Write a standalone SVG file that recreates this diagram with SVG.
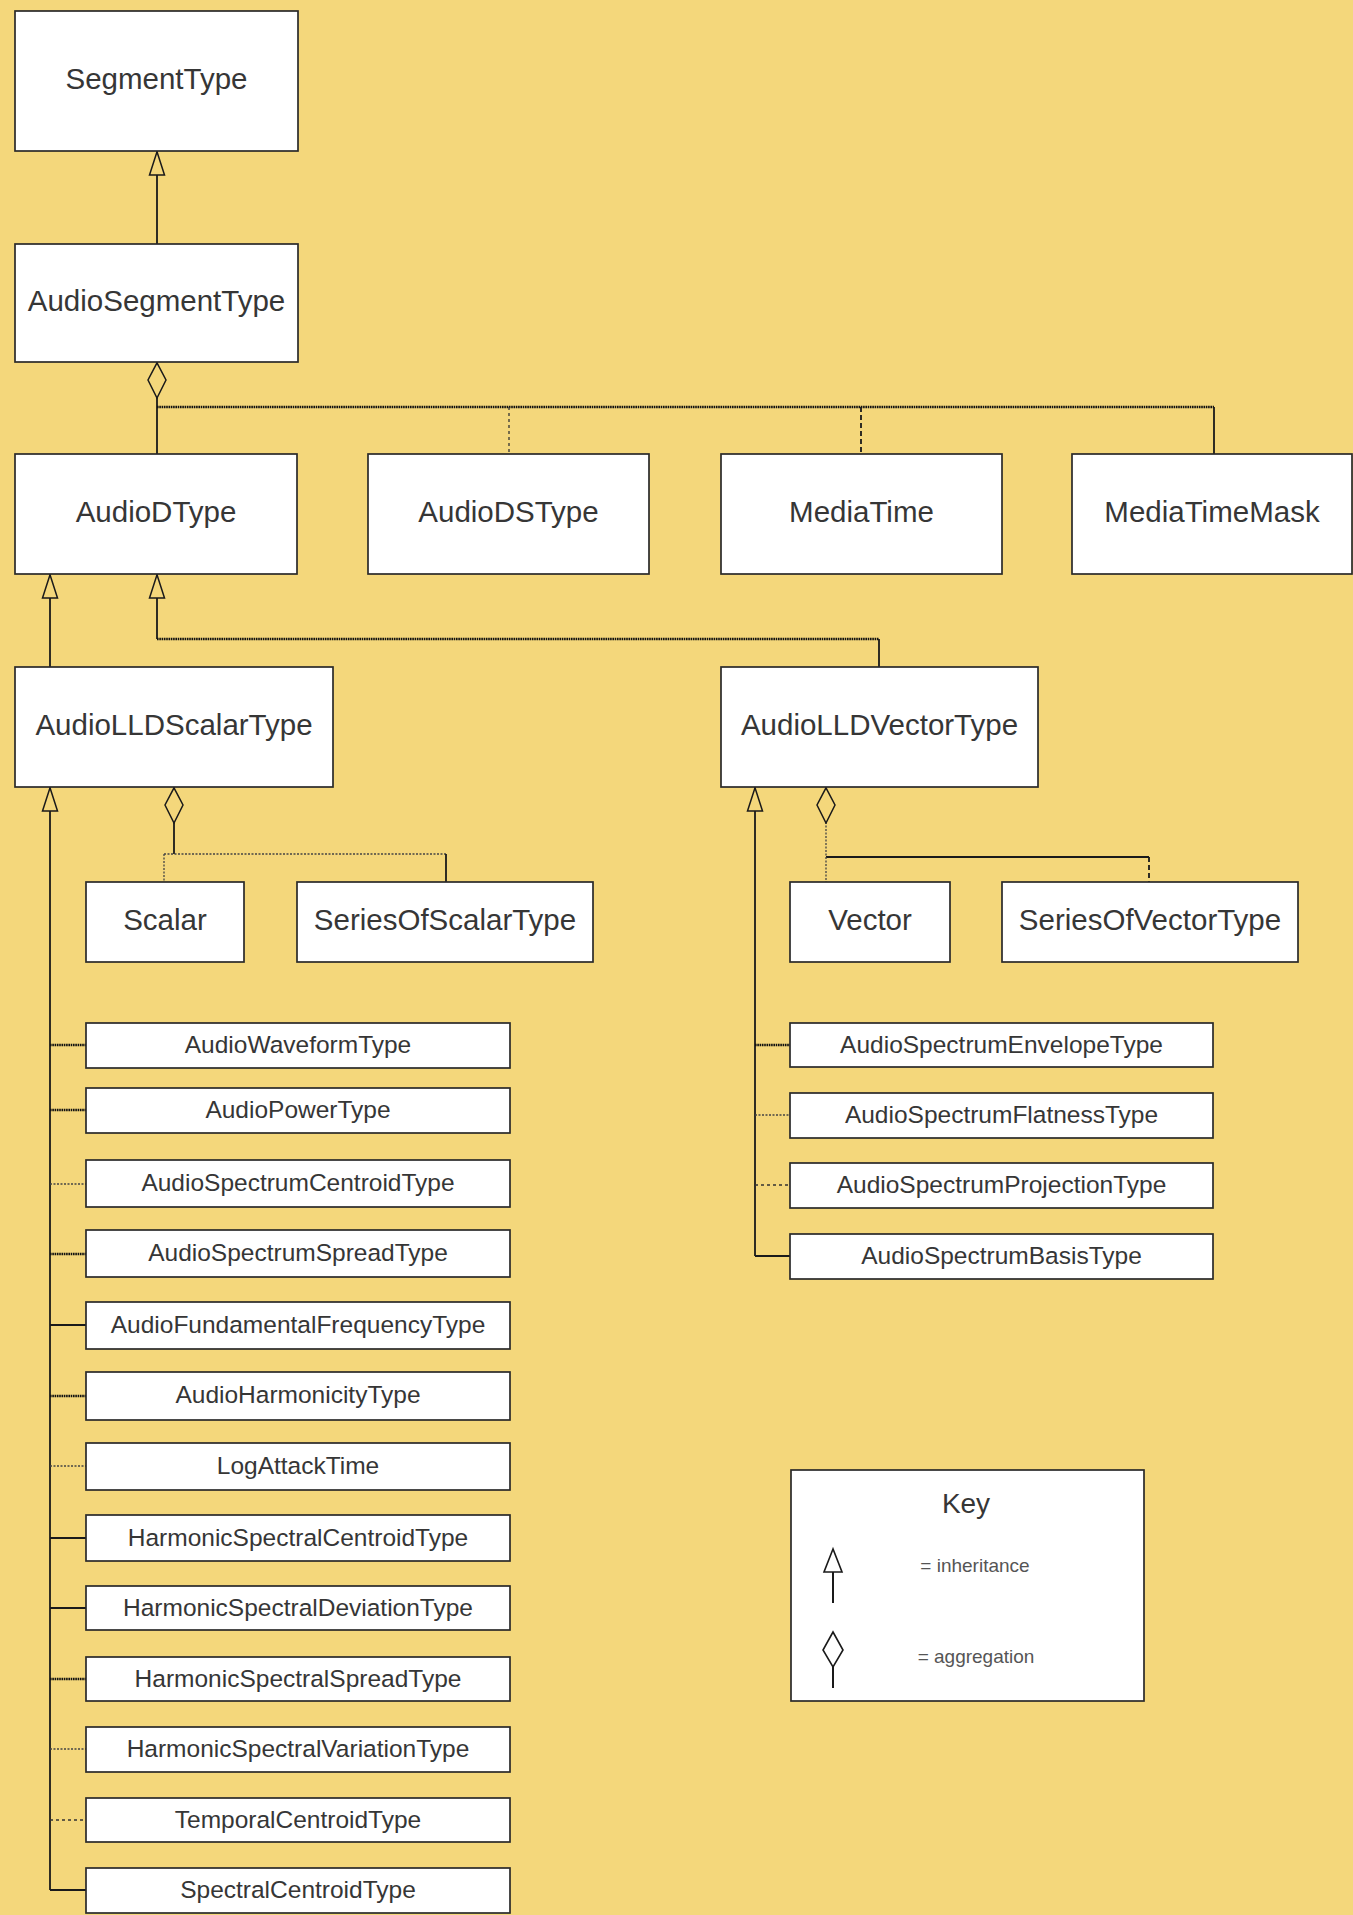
<svg xmlns="http://www.w3.org/2000/svg" width="1353" height="1915" viewBox="0 0 1353 1915">
<style>
.bx{fill:#fff;stroke:#2a2a2a;stroke-width:1.7}
.t{font-family:"Liberation Sans",Arial,sans-serif;fill:#363636;text-anchor:middle}
.big{font-size:29.5px}
.mid{font-size:24.5px}
.sm{font-size:19px;fill:#555}
.c{fill:none;stroke:#1a1a1a;stroke-width:1.8}
.dd{fill:none;stroke:#111;stroke-width:2.6;stroke-dasharray:1.6 0.7}
.df{fill:none;stroke:#444;stroke-width:1.3;stroke-dasharray:2 1.5}
.ds{fill:none;stroke:#333;stroke-width:1.3;stroke-dasharray:3 3}
.dsh{fill:none;stroke:#1a1a1a;stroke-width:1.8;stroke-dasharray:5 3}
</style>
<defs>
<marker id="inh" viewBox="0 0 25 18" refX="0" refY="9" markerWidth="25" markerHeight="18" markerUnits="userSpaceOnUse" orient="auto">
<polygon points="0.8,9 24,1.5 24,16.5" fill="#f4d77b" stroke="#1a1a1a" stroke-width="1.5"/>
</marker>
<marker id="agg" viewBox="0 0 37 20" refX="0" refY="10" markerWidth="37" markerHeight="20" markerUnits="userSpaceOnUse" orient="auto">
<polygon points="0.8,10 18,1 36,10 18,19" fill="#f4d77b" stroke="#1a1a1a" stroke-width="1.5"/>
</marker>
</defs>
<rect x="0" y="0" width="1353" height="1915" fill="#f4d77b"/>

<g id="connectors">
<path class="c" d="M157,151 V244" marker-start="url(#inh)"/>
<path class="c" d="M157,362 V454" marker-start="url(#agg)"/>
<path class="dd" d="M157,407 H1214"/>
<path class="ds" d="M509,407 V454"/>
<path class="dsh" d="M861,407 V454"/>
<path class="c" d="M1214,407 V454"/>
<path class="c" d="M50,574 V667" marker-start="url(#inh)"/>
<path class="c" d="M157,574 V639" marker-start="url(#inh)"/>
<path class="dd" d="M157,639 H879"/>
<path class="c" d="M879,639 V667"/>
<path class="c" d="M174,787 V854" marker-start="url(#agg)"/>
<path class="df" d="M164,854 H446"/>
<path class="df" d="M164,854 V882"/>
<path class="c" d="M446,854 V882"/>
<path class="df" d="M826,787 V857" marker-start="url(#agg)"/>
<path class="c" d="M826,857 H1149"/>
<path class="df" d="M826,857 V882"/>
<path class="dsh" d="M1149,857 V882"/>
<path class="c" d="M50,787 V1890" marker-start="url(#inh)"/>
<path class="dd" d="M50,1045 H86"/>
<path class="dd" d="M50,1110 H86"/>
<path class="df" d="M50,1184 H86"/>
<path class="dd" d="M50,1254 H86"/>
<path class="c" d="M50,1325 H86"/>
<path class="dd" d="M50,1396 H86"/>
<path class="df" d="M50,1466 H86"/>
<path class="c" d="M50,1538 H86"/>
<path class="c" d="M50,1608 H86"/>
<path class="dd" d="M50,1679 H86"/>
<path class="df" d="M50,1749 H86"/>
<path class="ds" d="M50,1820 H86"/>
<path class="c" d="M50,1890 H86"/>
<path class="c" d="M755,787 V1256" marker-start="url(#inh)"/>
<path class="dd" d="M755,1045 H790"/>
<path class="df" d="M755,1115 H790"/>
<path class="ds" d="M755,1185 H790"/>
<path class="c" d="M755,1256 H790"/>
</g>

<g id="SegmentType"><rect class="bx" x="15" y="11" width="283" height="140"/><text class="t big" x="156.5" y="89">SegmentType</text></g>
<g id="AudioSegmentType"><rect class="bx" x="15" y="244" width="283" height="118"/><text class="t big" x="156.5" y="311">AudioSegmentType</text></g>
<g id="AudioDType"><rect class="bx" x="15" y="454" width="282" height="120"/><text class="t big" x="156" y="522">AudioDType</text></g>
<g id="AudioDSType"><rect class="bx" x="368" y="454" width="281" height="120"/><text class="t big" x="508.5" y="522">AudioDSType</text></g>
<g id="MediaTime"><rect class="bx" x="721" y="454" width="281" height="120"/><text class="t big" x="861.5" y="522">MediaTime</text></g>
<g id="MediaTimeMask"><rect class="bx" x="1072" y="454" width="280" height="120"/><text class="t big" x="1212" y="522">MediaTimeMask</text></g>
<g id="AudioLLDScalarType"><rect class="bx" x="15" y="667" width="318" height="120"/><text class="t big" x="174" y="735">AudioLLDScalarType</text></g>
<g id="AudioLLDVectorType"><rect class="bx" x="721" y="667" width="317" height="120"/><text class="t big" x="879.5" y="735">AudioLLDVectorType</text></g>
<g id="Scalar"><rect class="bx" x="86" y="882" width="158" height="80"/><text class="t big" x="165" y="930">Scalar</text></g>
<g id="SeriesOfScalarType"><rect class="bx" x="297" y="882" width="296" height="80"/><text class="t big" x="445" y="930">SeriesOfScalarType</text></g>
<g id="Vector"><rect class="bx" x="790" y="882" width="160" height="80"/><text class="t big" x="870" y="930">Vector</text></g>
<g id="SeriesOfVectorType"><rect class="bx" x="1002" y="882" width="296" height="80"/><text class="t big" x="1150" y="930">SeriesOfVectorType</text></g>

<g id="AudioWaveformType"><rect class="bx" x="86" y="1023" width="424" height="45"/><text class="t mid" x="298" y="1053">AudioWaveformType</text></g>
<g id="AudioPowerType"><rect class="bx" x="86" y="1088" width="424" height="45"/><text class="t mid" x="298" y="1118">AudioPowerType</text></g>
<g id="AudioSpectrumCentroidType"><rect class="bx" x="86" y="1160" width="424" height="47"/><text class="t mid" x="298" y="1191">AudioSpectrumCentroidType</text></g>
<g id="AudioSpectrumSpreadType"><rect class="bx" x="86" y="1230" width="424" height="47"/><text class="t mid" x="298" y="1261">AudioSpectrumSpreadType</text></g>
<g id="AudioFundamentalFrequencyType"><rect class="bx" x="86" y="1302" width="424" height="47"/><text class="t mid" x="298" y="1333">AudioFundamentalFrequencyType</text></g>
<g id="AudioHarmonicityType"><rect class="bx" x="86" y="1372" width="424" height="48"/><text class="t mid" x="298" y="1403">AudioHarmonicityType</text></g>
<g id="LogAttackTime"><rect class="bx" x="86" y="1443" width="424" height="47"/><text class="t mid" x="298" y="1474">LogAttackTime</text></g>
<g id="HarmonicSpectralCentroidType"><rect class="bx" x="86" y="1515" width="424" height="46"/><text class="t mid" x="298" y="1546">HarmonicSpectralCentroidType</text></g>
<g id="HarmonicSpectralDeviationType"><rect class="bx" x="86" y="1586" width="424" height="44"/><text class="t mid" x="298" y="1616">HarmonicSpectralDeviationType</text></g>
<g id="HarmonicSpectralSpreadType"><rect class="bx" x="86" y="1657" width="424" height="44"/><text class="t mid" x="298" y="1687">HarmonicSpectralSpreadType</text></g>
<g id="HarmonicSpectralVariationType"><rect class="bx" x="86" y="1727" width="424" height="45"/><text class="t mid" x="298" y="1757">HarmonicSpectralVariationType</text></g>
<g id="TemporalCentroidType"><rect class="bx" x="86" y="1798" width="424" height="44"/><text class="t mid" x="298" y="1828">TemporalCentroidType</text></g>
<g id="SpectralCentroidType"><rect class="bx" x="86" y="1868" width="424" height="45"/><text class="t mid" x="298" y="1898">SpectralCentroidType</text></g>

<g id="AudioSpectrumEnvelopeType"><rect class="bx" x="790" y="1023" width="423" height="44"/><text class="t mid" x="1001.5" y="1053">AudioSpectrumEnvelopeType</text></g>
<g id="AudioSpectrumFlatnessType"><rect class="bx" x="790" y="1093" width="423" height="45"/><text class="t mid" x="1001.5" y="1123">AudioSpectrumFlatnessType</text></g>
<g id="AudioSpectrumProjectionType"><rect class="bx" x="790" y="1163" width="423" height="45"/><text class="t mid" x="1001.5" y="1193">AudioSpectrumProjectionType</text></g>
<g id="AudioSpectrumBasisType"><rect class="bx" x="790" y="1234" width="423" height="45"/><text class="t mid" x="1001.5" y="1264">AudioSpectrumBasisType</text></g>

<g id="Key">
<rect class="bx" x="791" y="1470" width="353" height="231"/>
<text class="t" style="font-size:28px" x="966" y="1513">Key</text>
<polygon points="833,1549 824,1572 842,1572" fill="#fff" stroke="#1a1a1a" stroke-width="1.6"/>
<line x1="833" y1="1572" x2="833" y2="1603" stroke="#1a1a1a" stroke-width="2"/>
<text class="t sm" x="975" y="1572">= inheritance</text>
<polygon points="833,1632 843,1650 833,1667 823,1650" fill="#fff" stroke="#1a1a1a" stroke-width="1.6"/>
<line x1="833" y1="1667" x2="833" y2="1688" stroke="#1a1a1a" stroke-width="2"/>
<text class="t sm" x="976" y="1663">= aggregation</text>
</g>
</svg>
